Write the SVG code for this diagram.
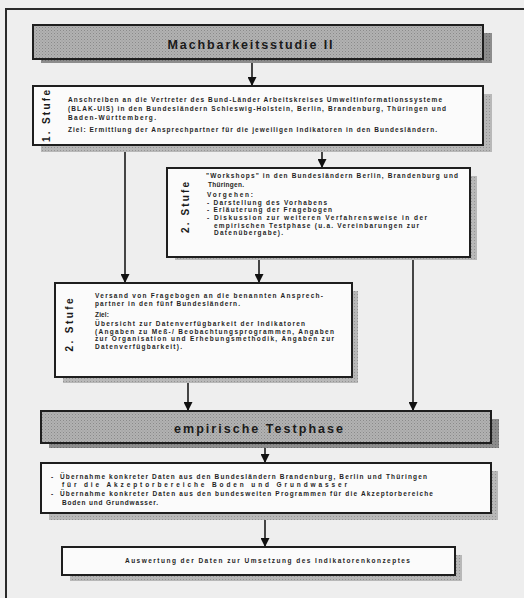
<svg xmlns="http://www.w3.org/2000/svg" width="524" height="598" viewBox="0 0 524 598">
  <defs>
    <!-- halftone textures for the grey banner boxes and the drop shadows -->
    <pattern id="tone" width="3" height="3" patternUnits="userSpaceOnUse">
      <rect width="3" height="3" fill="#b2b2b2"/>
      <rect x="0" y="0" width="1" height="1" fill="#8a8a8a"/>
      <rect x="1.5" y="1.5" width="1" height="1" fill="#959595"/>
    </pattern>
    <pattern id="shadowDark" width="3" height="3" patternUnits="userSpaceOnUse">
      <rect width="3" height="3" fill="#8c8c8c"/>
      <rect x="0" y="0" width="1" height="1" fill="#6e6e6e"/>
    </pattern>
    <pattern id="shadowLight" width="3" height="3" patternUnits="userSpaceOnUse">
      <rect width="3" height="3" fill="#b8b8b8"/>
      <rect x="0" y="0" width="1" height="1" fill="#949494"/>
    </pattern>
    <marker id="arrow" viewBox="0 0 10 10" refX="10" refY="5" markerWidth="9" markerHeight="9" markerUnits="userSpaceOnUse" orient="auto">
      <path d="M0,0 L10,5 L0,10 z" fill="#111"/>
    </marker>
  </defs>
  <style>
    .frame { fill: none; stroke: #2a2a2a; stroke-width: 2; }
    .box { fill: #fbfbfb; stroke: #1e1e1e; stroke-width: 2; }
    .band { fill: url(#tone); stroke: #1e1e1e; stroke-width: 2; }
    .shd { fill: url(#shadowLight); }
    .shdDark { fill: url(#shadowDark); }
    .t { font-family: "Liberation Sans", Arial, sans-serif; font-weight: bold; font-size: 6.5px; fill: #1f1f1f; }
    .head { font-family: "Liberation Sans", Arial, sans-serif; font-weight: bold; font-size: 12.5px; fill: #1a1a1a; text-anchor: middle; }
    .stufe { font-family: "Liberation Sans", Arial, sans-serif; font-weight: bold; font-size: 10px; fill: #1a1a1a; text-anchor: middle; }
    .conn { fill: none; stroke: #1a1a1a; stroke-width: 1.6; }
  </style>

  <!-- page background and outer frame -->
  <rect x="0" y="0" width="524" height="598" fill="#eeeeee"/>
  <rect class="frame" x="6" y="9" width="530" height="600"/>

  <!-- connectors -->
  <g id="connectors">
    <line class="conn" x1="252" y1="60" x2="252" y2="86" marker-end="url(#arrow)"/>
    <line class="conn" x1="322" y1="146" x2="322" y2="168" marker-end="url(#arrow)"/>
    <line class="conn" x1="125" y1="146" x2="125" y2="283" marker-end="url(#arrow)"/>
    <line class="conn" x1="259" y1="258" x2="259" y2="283" marker-end="url(#arrow)"/>
    <line class="conn" x1="413" y1="258" x2="413" y2="411" marker-end="url(#arrow)"/>
    <line class="conn" x1="188" y1="378" x2="188" y2="411" marker-end="url(#arrow)"/>
    <line class="conn" x1="265" y1="444" x2="265" y2="463" marker-end="url(#arrow)"/>
    <line class="conn" x1="265" y1="514" x2="265" y2="547" marker-end="url(#arrow)"/>
  </g>

  <!-- study title banner -->
  <g id="machbarkeitsstudie">
    <rect class="shdDark" x="41" y="33" width="451" height="30"/>
    <rect class="band" x="33" y="25" width="450" height="34"/>
    <text class="head" x="250" y="48.5" textLength="165" lengthAdjust="spacing">Machbarkeitsstudie II</text>
  </g>

  <!-- stage 1 -->
  <g id="stufe1">
    <rect class="shd" x="41" y="94" width="451" height="58"/>
    <rect class="box" x="33" y="86" width="450" height="59"/>
    <text class="stufe" transform="translate(49.5,116) rotate(-90)" textLength="52" lengthAdjust="spacing">1. Stufe</text>
    <text class="t" x="68" y="102" textLength="374" lengthAdjust="spacing">Anschreiben an die Vertreter des Bund-Länder Arbeitskreises Umweltinformationssysteme</text>
    <text class="t" x="68" y="111" textLength="378" lengthAdjust="spacing">(BLAK-UIS) in den Bundesländern Schleswig-Holstein, Berlin, Brandenburg, Thüringen und</text>
    <text class="t" x="68" y="119.5" textLength="88" lengthAdjust="spacing">Baden-Württemberg.</text>
    <text class="t" x="68" y="132" textLength="369" lengthAdjust="spacing">Ziel: Ermittlung der Ansprechpartner für die jeweiligen Indikatoren in den Bundesländern.</text>
  </g>

  <!-- stage 2: workshops -->
  <g id="stufe2-workshops">
    <rect class="shd" x="175" y="176" width="302" height="84"/>
    <rect class="box" x="167" y="168" width="303" height="89"/>
    <text class="stufe" transform="translate(189,207.5) rotate(-90)" textLength="51" lengthAdjust="spacing">2. Stufe</text>
    <text class="t" x="206" y="178" textLength="252" lengthAdjust="spacing">"Workshops" in den Bundesländern Berlin, Brandenburg und</text>
    <text class="t" x="208" y="186.5" textLength="36" lengthAdjust="spacing">Thüringen.</text>
    <text class="t" x="207" y="197" textLength="46" lengthAdjust="spacing">Vorgehen:</text>
    <text class="t" x="207" y="204.5" textLength="120" lengthAdjust="spacing">- Darstellung des Vorhabens</text>
    <text class="t" x="207" y="212" textLength="125" lengthAdjust="spacing">- Erläuterung der Fragebogen</text>
    <text class="t" x="207" y="219.5" textLength="220" lengthAdjust="spacing">- Diskussion zur weiteren Verfahrensweise in der</text>
    <text class="t" x="214" y="227.5" textLength="205" lengthAdjust="spacing">empirischen Testphase (u.a. Vereinbarungen zur</text>
    <text class="t" x="214" y="235" textLength="69" lengthAdjust="spacing">Datenübergabe).</text>
  </g>

  <!-- stage 2: questionnaires -->
  <g id="stufe2-fragebogen">
    <rect class="shd" x="63" y="291" width="295" height="92"/>
    <rect class="box" x="55" y="283" width="297" height="94"/>
    <text class="stufe" transform="translate(73,325) rotate(-90)" textLength="53" lengthAdjust="spacing">2. Stufe</text>
    <text class="t" x="95" y="297.5" textLength="228" lengthAdjust="spacing">Versand von Fragebogen an die benannten Ansprech-</text>
    <text class="t" x="95" y="305.5" textLength="145" lengthAdjust="spacing">partner in den fünf Bundesländern.</text>
    <text class="t" x="95" y="317" textLength="14" lengthAdjust="spacing">Ziel:</text>
    <text class="t" x="95" y="325.5" textLength="210" lengthAdjust="spacing">Übersicht zur Datenverfügbarkeit der Indikatoren</text>
    <text class="t" x="95" y="333.5" textLength="239" lengthAdjust="spacing">(Angaben zu Meß-/ Beobachtungsprogrammen, Angaben</text>
    <text class="t" x="95" y="341" textLength="239" lengthAdjust="spacing">zur Organisation und Erhebungsmethodik, Angaben zur</text>
    <text class="t" x="95" y="348.5" textLength="87" lengthAdjust="spacing">Datenverfügbarkeit).</text>
  </g>

  <!-- empirical test phase banner -->
  <g id="testphase">
    <rect class="shdDark" x="49" y="419" width="450" height="29"/>
    <rect class="band" x="41" y="411" width="450" height="32"/>
    <text class="head" x="258.5" y="432.5" textLength="169" lengthAdjust="spacing">empirische Testphase</text>
  </g>

  <!-- data takeover -->
  <g id="datenuebernahme">
    <rect class="shd" x="49" y="471" width="449" height="49"/>
    <rect class="box" x="41" y="463" width="450" height="50"/>
    <text class="t" x="51" y="479">-</text>
    <text class="t" x="60" y="479" textLength="367" lengthAdjust="spacing">Übernahme konkreter Daten aus den Bundesländern Brandenburg, Berlin und Thüringen</text>
    <text class="t" x="62" y="487" textLength="285" lengthAdjust="spacing">für die Akzeptorbereiche Boden und Grundwasser</text>
    <text class="t" x="51" y="496">-</text>
    <text class="t" x="60" y="496" textLength="373" lengthAdjust="spacing">Übernahme konkreter Daten aus den bundesweiten Programmen für die Akzeptorbereiche</text>
    <text class="t" x="62" y="505" textLength="96" lengthAdjust="spacing">Boden und Grundwasser.</text>
  </g>

  <!-- evaluation -->
  <g id="auswertung">
    <rect class="shd" x="70" y="555" width="392" height="26"/>
    <rect class="box" x="62" y="547" width="393" height="28"/>
    <text class="t" x="125" y="563" textLength="285" lengthAdjust="spacing">Auswertung der Daten zur Umsetzung des Indikatorenkonzeptes</text>
  </g>
</svg>
